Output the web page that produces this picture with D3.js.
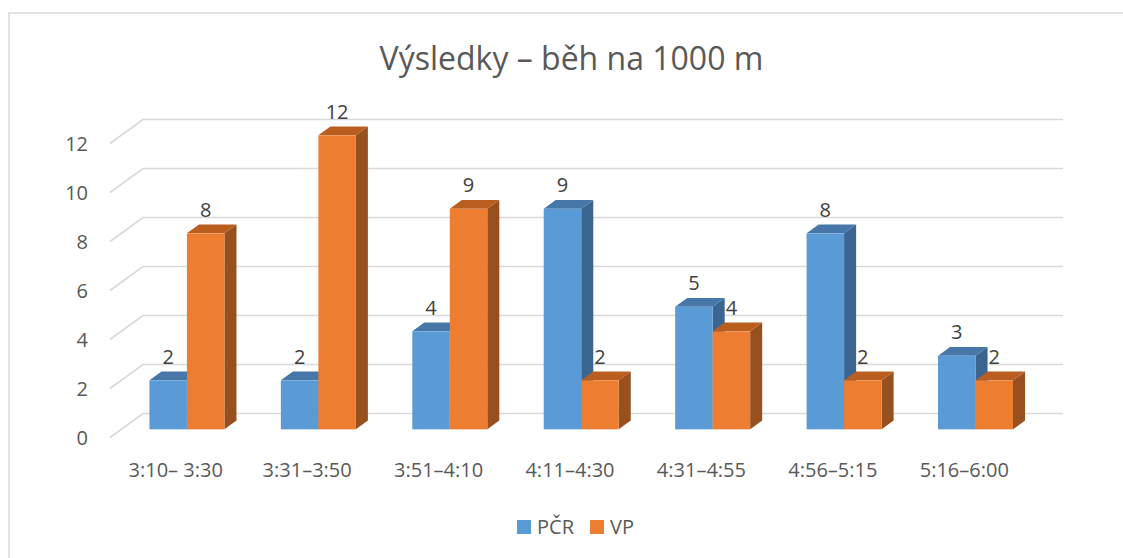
<!DOCTYPE html>
<html>
<head>
<meta charset="utf-8">
<script src="https://cdn.jsdelivr.net/npm/d3@7"></script>
<style>
  html, body { margin: 0; padding: 0; background: #fff; }
  svg { display: block; }
  text { font-family: "Open Sans", "Noto Sans", sans-serif; fill: #595959; }
</style>
</head>
<body>
<svg id="chart" width="1123" height="558"></svg>
<script>
const title = "Výsledky – běh na 1000 m";
const categories = ["3:10– 3:30", "3:31–3:50", "3:51–4:10", "4:11–4:30", "4:31–4:55", "4:56–5:15", "5:16–6:00"];
const seriesNames = ["PČR", "VP"];
const pcrValues = [2, 2, 4, 9, 5, 8, 3];
const vpValues = [8, 12, 9, 2, 4, 2, 2];
const yTicks = [0, 2, 4, 6, 8, 10, 12];

const colors = {
  "PČR": { front: "#5B9BD5", top: "#4677A8", side: "#3A6590" },
  "VP":  { front: "#ED7D31", top: "#BA5E1F", side: "#97501E" }
};

const svg = d3.select("#chart");

// 3D geometry: full depth offset of the plot box
const DX = 33, DY = -24;
const f0 = 0.34, f1 = 0.705; // bar depth fractions (front, back)

const x = d3.scaleBand().domain(categories).range([110, 1030]).paddingInner(0.4294).paddingOuter(0.2147);
const xs = d3.scaleBand().domain(seriesNames).range([0, x.bandwidth()]);
const y = d3.scaleLinear().domain([0, 12]).range([437.5, 143.5]);

// frame
svg.append("path")
  .attr("d", "M9,558 L9,13 L1123,13")
  .attr("fill", "none").attr("stroke", "#D9D9D9").attr("stroke-width", 1.5);

// title
svg.append("text")
  .attr("x", 571.5).attr("y", 70)
  .attr("text-anchor", "middle")
  .attr("font-size", 32)
  .text(title);

// gridlines (side wall diagonal + back wall)
const gx0 = x.range()[0], gx1 = x.range()[1];
svg.append("g").selectAll("path").data(yTicks).join("path")
  .attr("d", v => `M${gx0},${y(v)} L${gx0 + DX},${y(v) + DY} L${gx1 + DX},${y(v) + DY}`)
  .attr("fill", "none").attr("stroke", "#D9D9D9").attr("stroke-width", 1.6);

// y labels
svg.append("g").selectAll("text").data(yTicks).join("text")
  .attr("x", 88).attr("y", v => y(v))
  .attr("text-anchor", "end").attr("dominant-baseline", "central")
  .attr("font-size", 20)
  .text(d => d);

// bars
const data = categories.map((c, i) => ({ cat: c, vals: [
  { s: "PČR", v: pcrValues[i] }, { s: "VP", v: vpValues[i] }
]}));

const ox = f0 * DX, oy = f0 * DY;
const bdx = (f1 - f0) * DX, bdy = (f1 - f0) * DY;

const barsG = svg.append("g");
data.forEach(d => {
  d.vals.forEach(b => {
    const x0 = x(d.cat) + xs(b.s) + ox;
    const w = xs.bandwidth();
    const yb = y(0) + oy;
    const yt = y(b.v) + oy;
    const c = colors[b.s];
    const g = barsG.append("g");
    g.append("path")
      .attr("d", `M${x0 + w},${yb} L${x0 + w + bdx},${yb + bdy} L${x0 + w + bdx},${yt + bdy} L${x0 + w},${yt} Z`)
      .attr("fill", c.side);
    g.append("path")
      .attr("d", `M${x0},${yt} L${x0 + bdx},${yt + bdy} L${x0 + w + bdx},${yt + bdy} L${x0 + w},${yt} Z`)
      .attr("fill", c.top);
    g.append("rect")
      .attr("x", x0).attr("y", yt).attr("width", w).attr("height", yb - yt)
      .attr("fill", c.front);
  });
});

// data labels
const labelsG = svg.append("g");
data.forEach(d => {
  d.vals.forEach(b => {
    labelsG.append("text")
      .attr("x", x(d.cat) + xs(b.s) + ox + xs.bandwidth() / 2)
      .attr("y", y(b.v) + oy - 24)
      .attr("text-anchor", "middle").attr("dominant-baseline", "central")
      .attr("font-size", 20)
      .style("fill", "#404040")
      .text(b.v);
  });
});

// category labels
svg.append("g").selectAll("text").data(categories).join("text")
  .attr("x", c => x(c) + x.bandwidth() / 2)
  .attr("y", 477)
  .attr("text-anchor", "middle")
  .attr("font-size", 20)
  .text(c => c);

// legend
const legend = [
  { name: "PČR", sx: 517, tx: 537 },
  { name: "VP", sx: 590, tx: 610 }
];
const lg = svg.append("g");
legend.forEach(l => {
  lg.append("rect").attr("x", l.sx).attr("y", 520).attr("width", 14).attr("height", 14)
    .attr("fill", colors[l.name].front);
  lg.append("text").attr("x", l.tx).attr("y", 534).attr("font-size", 20).text(l.name);
});
</script>
</body>
</html>
